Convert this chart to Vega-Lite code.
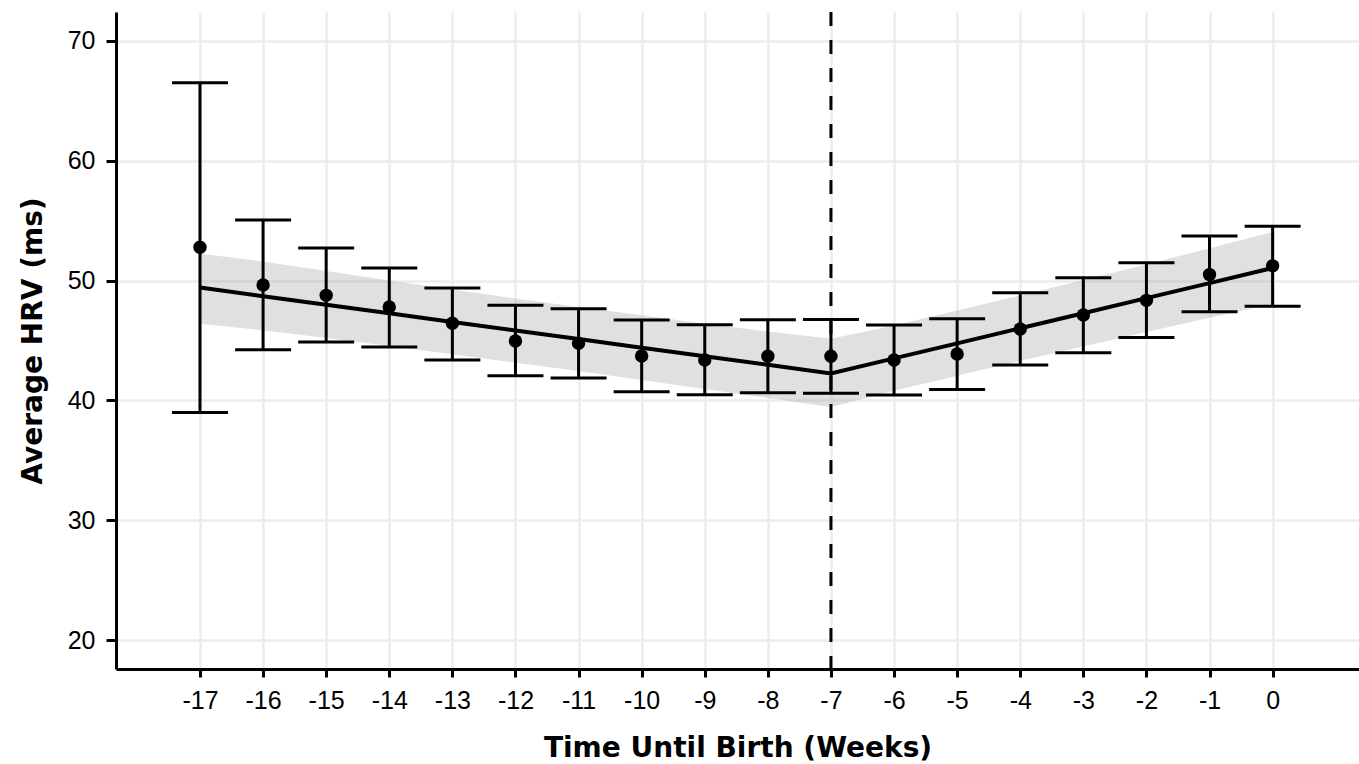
{
  "$schema": "https://vega.github.io/schema/vega-lite/v6.json",
  "width": 1243,
  "height": 657,
  "autosize": {"type": "none"},
  "padding": {"left": 116, "top": 12, "right": 0, "bottom": 95},
  "background": "white",
  "config": {
    "view": {"stroke": null},
    "axis": {
      "domainColor": "black",
      "domainWidth": 3,
      "tickColor": "black",
      "tickWidth": 3,
      "tickSize": 8,
      "gridColor": "#ececec",
      "gridWidth": 2.5,
      "labelFont": "Liberation Sans",
      "labelFontSize": 25,
      "labelColor": "black",
      "titleFont": "DejaVu Sans",
      "titleFontSize": 28,
      "titleFontWeight": "bold",
      "titleColor": "black"
    }
  },
  "datasets": {
    "obs": [
      {"week": -17, "mean": 52.78, "lo": 39.0, "hi": 66.52},
      {"week": -16, "mean": 49.63, "lo": 44.23, "hi": 55.06},
      {"week": -15, "mean": 48.77, "lo": 44.87, "hi": 52.72},
      {"week": -14, "mean": 47.8, "lo": 44.46, "hi": 51.05},
      {"week": -13, "mean": 46.44, "lo": 43.37, "hi": 49.38},
      {"week": -12, "mean": 44.96, "lo": 42.06, "hi": 47.94},
      {"week": -11, "mean": 44.76, "lo": 41.87, "hi": 47.66},
      {"week": -10, "mean": 43.71, "lo": 40.73, "hi": 46.71},
      {"week": -9, "mean": 43.37, "lo": 40.48, "hi": 46.32},
      {"week": -8, "mean": 43.68, "lo": 40.64, "hi": 46.74},
      {"week": -7, "mean": 43.68, "lo": 40.6, "hi": 46.75},
      {"week": -6, "mean": 43.37, "lo": 40.45, "hi": 46.29},
      {"week": -5, "mean": 43.87, "lo": 40.92, "hi": 46.82},
      {"week": -4, "mean": 45.96, "lo": 42.95, "hi": 48.99},
      {"week": -3, "mean": 47.13, "lo": 43.98, "hi": 50.24},
      {"week": -2, "mean": 48.35, "lo": 45.24, "hi": 51.5},
      {"week": -1, "mean": 50.5, "lo": 47.4, "hi": 53.72},
      {"week": 0, "mean": 51.23, "lo": 47.86, "hi": 54.53}
    ],
    "fit": [
      {"week": -17, "fit": 49.42, "flo": 46.4, "fhi": 52.25},
      {"week": -16, "fit": 48.7, "flo": 45.85, "fhi": 51.6},
      {"week": -15, "fit": 47.99, "flo": 45.2, "fhi": 50.8},
      {"week": -14, "fit": 47.27, "flo": 44.55, "fhi": 50.0},
      {"week": -13, "fit": 46.55, "flo": 43.85, "fhi": 49.25},
      {"week": -12, "fit": 45.84, "flo": 43.15, "fhi": 48.5},
      {"week": -11, "fit": 45.12, "flo": 42.45, "fhi": 47.8},
      {"week": -10, "fit": 44.4, "flo": 41.7, "fhi": 47.1},
      {"week": -9, "fit": 43.68, "flo": 40.95, "fhi": 46.4},
      {"week": -8, "fit": 42.97, "flo": 40.2, "fhi": 45.75},
      {"week": -7, "fit": 42.25, "flo": 39.45, "fhi": 45.15},
      {"week": -6, "fit": 43.51, "flo": 40.8, "fhi": 46.25},
      {"week": -5, "fit": 44.76, "flo": 42.05, "fhi": 47.5},
      {"week": -4, "fit": 46.02, "flo": 43.3, "fhi": 48.75},
      {"week": -3, "fit": 47.28, "flo": 44.5, "fhi": 50.05},
      {"week": -2, "fit": 48.54, "flo": 45.7, "fhi": 51.35},
      {"week": -1, "fit": 49.79, "flo": 46.9, "fhi": 52.7},
      {"week": 0, "fit": 51.05, "flo": 48.05, "fhi": 54.05}
    ],
    "cut": [{"week": -7}]
  },
  "layer": [
    {
      "data": {"name": "fit"},
      "mark": {"type": "area", "color": "#999999", "opacity": 0.3},
      "encoding": {
        "x": {
          "field": "week", "type": "quantitative",
          "scale": {"domain": [-18.331, 1.369], "nice": false, "zero": false},
          "axis": {
            "values": [-17,-16,-15,-14,-13,-12,-11,-10,-9,-8,-7,-6,-5,-4,-3,-2,-1,0],
            "labelExpr": "toString(datum.value)",
            "grid": true,
            "labelPadding": 11,
            "title": "Time Until Birth (Weeks)",
            "titlePadding": 21
          }
        },
        "y": {
          "field": "flo", "type": "quantitative",
          "scale": {"domain": [17.58, 72.42], "nice": false, "zero": false},
          "axis": {
            "values": [20, 30, 40, 50, 60, 70],
            "grid": true,
            "tickSize": 10,
            "labelPadding": 11,
            "title": "Average HRV (ms)",
            "titlePadding": 20
          }
        },
        "y2": {"field": "fhi"}
      }
    },
    {
      "data": {"name": "obs"},
      "mark": {"type": "rule", "color": "black", "strokeWidth": 3},
      "encoding": {
        "x": {"field": "week", "type": "quantitative"},
        "y": {"field": "lo", "type": "quantitative"},
        "y2": {"field": "hi"}
      }
    },
    {
      "data": {"name": "obs"},
      "mark": {"type": "tick", "color": "black", "orient": "horizontal", "size": 56, "thickness": 3, "opacity": 1},
      "encoding": {
        "x": {"field": "week", "type": "quantitative"},
        "y": {"field": "lo", "type": "quantitative"}
      }
    },
    {
      "data": {"name": "obs"},
      "mark": {"type": "tick", "color": "black", "orient": "horizontal", "size": 56, "thickness": 3, "opacity": 1},
      "encoding": {
        "x": {"field": "week", "type": "quantitative"},
        "y": {"field": "hi", "type": "quantitative"}
      }
    },
    {
      "data": {"name": "fit"},
      "mark": {"type": "line", "color": "black", "strokeWidth": 4},
      "encoding": {
        "x": {"field": "week", "type": "quantitative"},
        "y": {"field": "fit", "type": "quantitative"}
      }
    },
    {
      "data": {"name": "obs"},
      "mark": {"type": "point", "filled": true, "color": "black", "size": 180, "opacity": 1},
      "encoding": {
        "x": {"field": "week", "type": "quantitative"},
        "y": {"field": "mean", "type": "quantitative"}
      }
    },
    {
      "data": {"name": "cut"},
      "mark": {"type": "rule", "color": "black", "strokeWidth": 3, "strokeDash": [14, 14]},
      "encoding": {
        "x": {"field": "week", "type": "quantitative"}
      }
    }
  ]
}
